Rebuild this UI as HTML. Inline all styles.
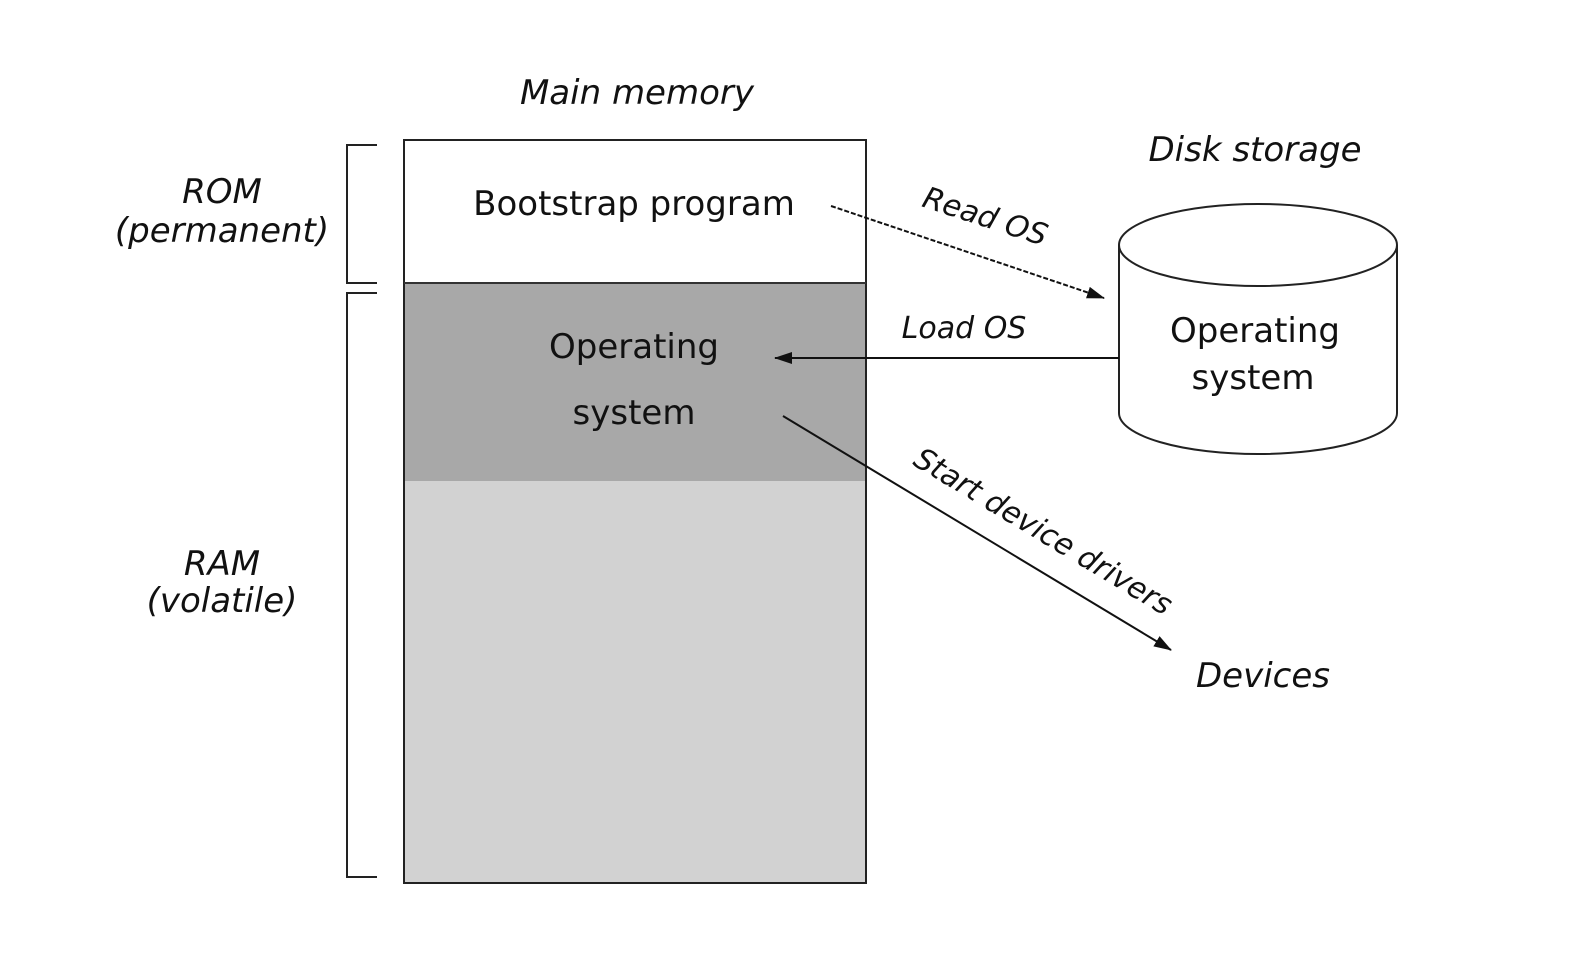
<!DOCTYPE html>
<html><head><style>body{margin:0;background:#fff}svg{display:block}</style></head><body>
<svg width="1594" height="970" viewBox="0 0 1594 970" xmlns="http://www.w3.org/2000/svg" font-family="'DejaVu Sans','Liberation Sans',sans-serif" fill="#111">
<defs><marker id="a" markerWidth="18" markerHeight="12" refX="17" refY="6" orient="auto" markerUnits="userSpaceOnUse"><path d="M0,0 L18,6 L0,12 Z" fill="#111"/></marker></defs>
<rect x="404" y="140" width="462" height="143" fill="#fff"/>
<rect x="404" y="283" width="462" height="198" fill="#a8a8a8"/>
<rect x="404" y="481" width="462" height="402" fill="#d2d2d2"/>
<rect x="404" y="140" width="462" height="743" fill="none" stroke="#222" stroke-width="2"/>
<line x1="404" y1="283" x2="866" y2="283" stroke="#333" stroke-width="2"/>
<path d="M377,145 H347 V283 H377 M377,293 H347 V877 H377" fill="none" stroke="#222" stroke-width="2"/>
<path d="M1119,245 V413 A139,41 0 0 0 1397,413 V245" fill="#fff" stroke="#222" stroke-width="2"/>
<ellipse cx="1258" cy="245" rx="139" ry="41" fill="#fff" stroke="#222" stroke-width="2"/>
<g font-size="34" font-style="italic" text-anchor="middle">
<text x="637" y="104">Main memory</text>
<text x="222" y="203">ROM</text>
<text x="222" y="242">(permanent)</text>
<text x="222" y="575">RAM</text>
<text x="222" y="612">(volatile)</text>
<text x="1255" y="161">Disk storage</text>
<text x="1263" y="687">Devices</text>
</g>
<g font-size="34" text-anchor="middle">
<text x="634" y="215">Bootstrap program</text>
<text x="634" y="358">Operating</text>
<text x="634" y="424">system</text>
<text x="1255" y="342">Operating</text>
<text x="1253" y="389">system</text>
</g>
<g font-size="30" font-style="italic" text-anchor="middle">
<text x="964" y="338">Load OS</text>
<text transform="translate(982,226) rotate(18)">Read OS</text>
<text transform="translate(1038,540) rotate(31)">Start device drivers</text>
</g>
<line x1="831" y1="206" x2="1104" y2="298" stroke="#111" stroke-width="2" stroke-dasharray="5,2" marker-end="url(#a)"/>
<line x1="1119" y1="358" x2="775" y2="358" stroke="#111" stroke-width="2" marker-end="url(#a)"/>
<line x1="783" y1="416" x2="1171" y2="650" stroke="#111" stroke-width="2" marker-end="url(#a)"/>
</svg>
</body></html>
